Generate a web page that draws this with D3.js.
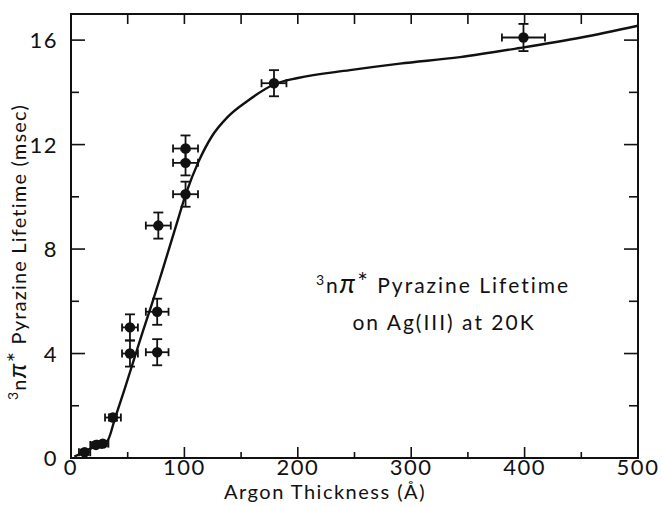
<!DOCTYPE html>
<html><head><meta charset="utf-8">
<script src="https://cdn.jsdelivr.net/npm/d3@7"></script>
<style>body{margin:0;background:#fff;} svg{display:block;} text{font-family:"Lato","DejaVu Sans",sans-serif;fill:#111;}</style>
</head><body><svg id="c" width="662" height="506"></svg>
<script>
// Data points: argon thickness (Å), lifetime (msec), x error, y error
const thickness = [12, 22, 28, 37, 52, 52, 76, 76, 77, 101, 101, 101, 179, 399];
const lifetime  = [0.22, 0.5, 0.55, 1.55, 5.0, 4.0, 5.6, 4.05, 8.9, 10.1, 11.3, 11.85, 14.35, 16.1];
const xErr      = [5, 5, 5, 7, 7, 7, 10, 10, 11, 11, 11, 11, 11, 19];
const yErr      = [0.1, 0.1, 0.1, 0.12, 0.5, 0.5, 0.5, 0.5, 0.5, 0.48, 0.48, 0.5, 0.5, 0.52];
// Fitted curve
const curveX = [3, 12, 22, 32, 39, 47, 55, 63, 71, 80, 92, 102, 112, 124, 138, 155, 179, 200, 246, 290, 343, 396, 450, 500];
const curveY = [0.05, 0.25, 0.45, 0.65, 1.55, 2.6, 3.7, 4.8, 5.85, 7.1, 8.8, 10.2, 11.3, 12.3, 13.05, 13.65, 14.3, 14.55, 14.85, 15.1, 15.35, 15.7, 16.1, 16.55];
const xTickLabels = [0, 100, 200, 300, 400, 500];
const yTickLabels = [0, 4, 8, 12, 16];

const svg = d3.select("#c");
const L = 71, R = 638, T = 14, B = 458;
const x = d3.scaleLinear().domain([0, 500]).range([L, R]);
const y = d3.scaleLinear().domain([0, 17]).range([B, T]);

// frame
svg.append("rect").attr("x", L).attr("y", T).attr("width", R - L).attr("height", B - T)
  .attr("fill", "none").attr("stroke", "#111").attr("stroke-width", 2);

const tickG = svg.append("g").attr("stroke", "#111").attr("stroke-width", 1.6);
d3.range(0, 501, 50).forEach(v => {
  if (v === 0 || v === 500) return;
  const major = v % 100 === 0;
  tickG.append("line").attr("x1", x(v)).attr("x2", x(v)).attr("y1", B).attr("y2", B - (major ? 11 : 6));
  tickG.append("line").attr("x1", x(v)).attr("x2", x(v)).attr("y1", T).attr("y2", T + 10);
});
d3.range(2, 17, 2).forEach(v => {
  const major = v % 4 === 0;
  tickG.append("line").attr("y1", y(v)).attr("y2", y(v)).attr("x1", L).attr("x2", L + (major ? 14 : 8));
  tickG.append("line").attr("y1", y(v)).attr("y2", y(v)).attr("x1", R).attr("x2", R - (major ? 14 : 9));
});

// tick labels
svg.append("g").selectAll("text").data(xTickLabels).join("text")
  .attr("x", d => x(d)).attr("y", 475).attr("text-anchor", "middle")
  .attr("font-size", 22).attr("letter-spacing", 1.5).text(d => d);
svg.append("g").selectAll("text").data(yTickLabels).join("text")
  .attr("x", 58).attr("y", d => y(d) + 8).attr("text-anchor", "end")
  .attr("font-size", 22).attr("letter-spacing", 1.5).text(d => d);

// axis titles
svg.append("text").attr("x", 325).attr("y", 499).attr("text-anchor", "middle")
  .attr("font-size", 20).attr("letter-spacing", 1.5).text("Argon Thickness (Å)");
const yt = svg.append("text").attr("transform", "translate(26,252) rotate(-90)")
  .attr("text-anchor", "middle").attr("font-size", 20).attr("letter-spacing", 1.2);
yt.append("tspan").attr("font-size", 14).attr("dy", -8).text("3");
yt.append("tspan").attr("dy", 8).text("n");
yt.append("tspan").attr("font-style", "italic").attr("font-size", 26).text("π");
yt.append("tspan").attr("font-size", 24).attr("dy", -2).text("*");
yt.append("tspan").attr("dy", 2).text(" Pyrazine  Lifetime  (msec)");

// annotation
const an = svg.append("text").attr("x", 443).attr("y", 293).attr("text-anchor", "middle")
  .attr("font-size", 21).attr("letter-spacing", 2);
an.append("tspan").attr("font-size", 14).attr("dy", -8).text("3");
an.append("tspan").attr("dy", 8).text("n");
an.append("tspan").attr("font-style", "italic").attr("font-size", 27).text("π");
an.append("tspan").attr("font-size", 25).attr("dy", -2).text("*");
an.append("tspan").attr("dy", 2).text(" Pyrazine  Lifetime");
svg.append("text").attr("x", 444).attr("y", 330).attr("text-anchor", "middle")
  .attr("font-size", 21).attr("letter-spacing", 2).text("on Ag(III) at 20K");

// curve
const line = d3.line().x(d => x(d[0])).y(d => y(d[1])).curve(d3.curveMonotoneX);
svg.append("path").datum(d3.zip(curveX, curveY)).attr("d", line)
  .attr("fill", "none").attr("stroke", "#111").attr("stroke-width", 2.4);

// points with error bars
const pts = d3.range(thickness.length).map(i => ({x: thickness[i], y: lifetime[i], ex: xErr[i], ey: yErr[i]}));
const eg = svg.append("g").attr("stroke", "#111").attr("stroke-width", 1.8);
pts.forEach(p => {
  eg.append("line").attr("x1", x(p.x - p.ex)).attr("x2", x(p.x + p.ex)).attr("y1", y(p.y)).attr("y2", y(p.y));
  eg.append("line").attr("x1", x(p.x - p.ex)).attr("x2", x(p.x - p.ex)).attr("y1", y(p.y) - 4).attr("y2", y(p.y) + 4);
  eg.append("line").attr("x1", x(p.x + p.ex)).attr("x2", x(p.x + p.ex)).attr("y1", y(p.y) - 4).attr("y2", y(p.y) + 4);
  eg.append("line").attr("x1", x(p.x)).attr("x2", x(p.x)).attr("y1", y(p.y - p.ey)).attr("y2", y(p.y + p.ey));
  eg.append("line").attr("x1", x(p.x) - 5).attr("x2", x(p.x) + 5).attr("y1", y(p.y - p.ey)).attr("y2", y(p.y - p.ey));
  eg.append("line").attr("x1", x(p.x) - 5).attr("x2", x(p.x) + 5).attr("y1", y(p.y + p.ey)).attr("y2", y(p.y + p.ey));
});
svg.append("g").selectAll("circle").data(pts).join("circle")
  .attr("cx", d => x(d.x)).attr("cy", d => y(d.y)).attr("r", 5.2).attr("fill", "#111");
</script></body></html>
